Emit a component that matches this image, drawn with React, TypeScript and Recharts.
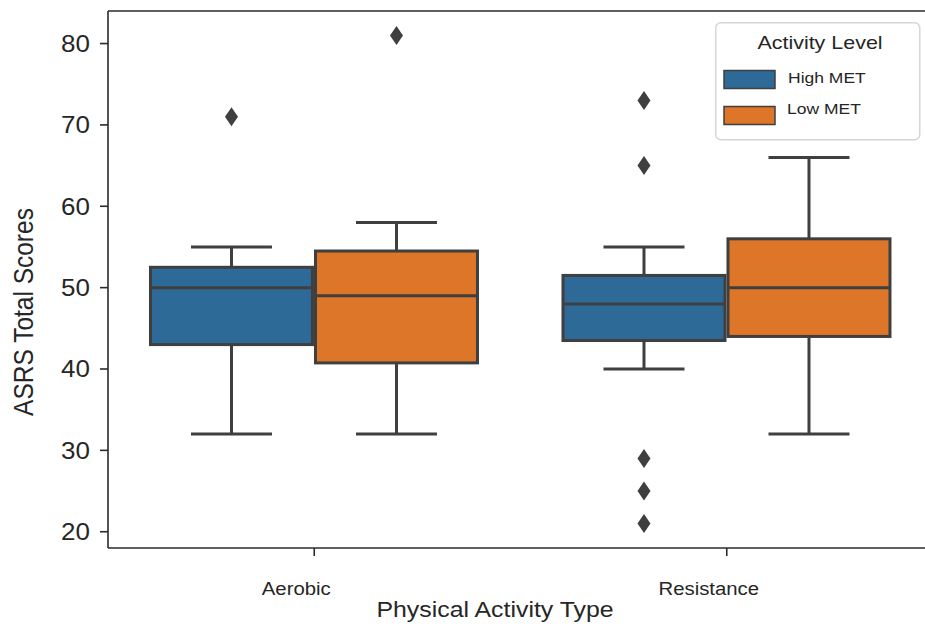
import { Bar, ComposedChart, Legend, ReferenceLine, XAxis, YAxis } from "recharts";

// box stats, one entry per activity type
const categories = ["Aerobic", "Resistance"];

const highLow = [32, 40];
const highQ1 = [43, 43.5];
const highMedian = [50, 48];
const highQ3 = [52.5, 51.5];
const highHigh = [55, 55];
const highOutliers = [[71], [73, 65, 29, 25, 21]];

const lowLow = [32, 32];
const lowQ1 = [40.75, 44];
const lowMedian = [49, 50];
const lowQ3 = [54.5, 56];
const lowHigh = [58, 66];
const lowOutliers = [[81], []];

const yTicks = [20, 30, 40, 50, 60, 70, 80];

const BLUE = "#2e6a97";
const ORANGE = "#dd7628";
const EDGE = "#3f3f3f";
const AXIS = "#2b2b2b";
const TEXT = "#262626";
const FONT = "'Liberation Sans', Arial, Helvetica, sans-serif";
// the reference is slightly stretched sideways, text included
const SX = 1.13;

const data = categories.map((name, i) => ({
  name,
  high: [highQ1[i], highQ3[i]],
  low: [lowQ1[i], lowQ3[i]],
  highStats: { min: highLow[i], q1: highQ1[i], med: highMedian[i], q3: highQ3[i], max: highHigh[i], out: highOutliers[i] },
  lowStats: { min: lowLow[i], q1: lowQ1[i], med: lowMedian[i], q3: lowQ3[i], max: lowHigh[i], out: lowOutliers[i] },
}));

function boxShape(key: "highStats" | "lowStats") {
  return (props: any) => {
    const { x, y, width, height, payload, fill } = props;
    const s = payload[key];
    const top = Math.min(y, y + height);
    const h = Math.abs(height);
    const ppu = h / (s.q3 - s.q1);
    const py = (v: number) => top + (s.q3 - v) * ppu;
    const cx = x + width / 2;
    const cap = width / 4;
    return (
      <g>
        <line x1={cx} x2={cx} y1={py(s.q3)} y2={py(s.max)} stroke={EDGE} strokeWidth={3} />
        <line x1={cx} x2={cx} y1={py(s.q1)} y2={py(s.min)} stroke={EDGE} strokeWidth={3} />
        <line x1={cx - cap} x2={cx + cap} y1={py(s.max)} y2={py(s.max)} stroke={EDGE} strokeWidth={3} />
        <line x1={cx - cap} x2={cx + cap} y1={py(s.min)} y2={py(s.min)} stroke={EDGE} strokeWidth={3} />
        <rect x={x} y={top} width={width} height={h} fill={fill} stroke={EDGE} strokeWidth={3} />
        <line x1={x} x2={x + width} y1={py(s.med)} y2={py(s.med)} stroke={EDGE} strokeWidth={3} />
        {s.out.map((v: number, j: number) => {
          const oy = py(v);
          return (
            <polygon
              key={j}
              points={`${cx},${oy - 9.5} ${cx + 6.5},${oy} ${cx},${oy + 9.5} ${cx - 6.5},${oy}`}
              fill={EDGE}
            />
          );
        })}
      </g>
    );
  };
}

const YTick = (p: any) => (
  <text
    x={0}
    y={0}
    transform={`translate(${p.x},${p.y}) scale(${SX},1)`}
    textAnchor="end"
    dy="0.36em"
    fontSize={23}
    fontFamily={FONT}
    fill={TEXT}
  >
    {p.payload.value}
  </text>
);

const XTick = (p: any) => (
  <text
    x={0}
    y={0}
    transform={`translate(${p.x - 18},${p.y + 39}) scale(${SX},1)`}
    textAnchor="middle"
    fontSize={18}
    fontFamily={FONT}
    fill={TEXT}
  >
    {p.payload.value}
  </text>
);

const LegendBox = ({ payload }: any) => (
  <svg width={206} height={119} style={{ display: "block" }}>
    <rect x={0.75} y={0.75} width={204} height={117} rx={5} fill="white" stroke="#d6d6d6" strokeWidth={1.5} />
    <text
      x={0}
      y={0}
      transform={`translate(105,27) scale(${SX},1)`}
      textAnchor="middle"
      fontSize={19}
      fontFamily={FONT}
      fill={TEXT}
    >
      Activity Level
    </text>
    {(payload || []).map((item: any, i: number) => (
      <g key={item.value}>
        <rect x={9} y={48.5 + i * 36} width={51} height={18} fill={item.color} stroke={EDGE} strokeWidth={1.5} />
        <text
          x={0}
          y={0}
          transform={`translate(${73 - i},${60.5 + i * 31.5}) scale(${SX},1)`}
          fontSize={15.5}
          fontFamily={FONT}
          fill={TEXT}
        >
          {item.value}
        </text>
      </g>
    ))}
  </svg>
);

export default function App() {
  return (
    <div
      style={{
        position: "absolute",
        left: 0,
        top: 0,
        width: 925,
        height: 630,
        overflow: "hidden",
        background: "white",
      }}
    >
      <ComposedChart
        width={940}
        height={630}
        data={data}
        margin={{ top: 11, right: 7, bottom: 0, left: 0 }}
        barCategoryGap="10.3%"
        barGap={3}
      >
        <XAxis
          dataKey="name"
          height={82}
          tickSize={8}
          tickMargin={0}
          tick={XTick}
          axisLine={{ stroke: AXIS, strokeWidth: 1.6 }}
          tickLine={{ stroke: AXIS, strokeWidth: 1.6 }}
          label={{
            content: () => (
              <text
                x={0}
                y={0}
                transform={`translate(495,617) scale(${SX},1)`}
                textAnchor="middle"
                fontSize={22}
                fontFamily={FONT}
                fill={TEXT}
              >
                Physical Activity Type
              </text>
            ),
          }}
        />
        <YAxis
          width={108}
          domain={[18, 84]}
          ticks={yTicks}
          allowDataOverflow
          tickSize={8}
          tickMargin={10}
          tick={YTick}
          axisLine={{ stroke: AXIS, strokeWidth: 1.6 }}
          tickLine={{ stroke: AXIS, strokeWidth: 1.6 }}
          label={{
            content: () => (
              <text
                x={0}
                y={0}
                transform={`translate(23.5,312) scale(${SX},1) rotate(-90)`}
                textAnchor="middle"
                dy="0.36em"
                fontSize={24.5}
                fontFamily={FONT}
                fill={TEXT}
              >
                ASRS Total Scores
              </text>
            ),
          }}
        />
        <ReferenceLine y={84} stroke={AXIS} strokeWidth={1.6} />
        <Bar dataKey="high" name="High MET" fill={BLUE} shape={boxShape("highStats")} isAnimationActive={false} />
        <Bar dataKey="low" name="Low MET" fill={ORANGE} shape={boxShape("lowStats")} isAnimationActive={false} />
        <Legend
          layout="vertical"
          align="center"
          verticalAlign="middle"
          content={LegendBox}
          wrapperStyle={{ left: 715, top: 22, width: 206, height: 119 }}
        />
      </ComposedChart>
    </div>
  );
}
